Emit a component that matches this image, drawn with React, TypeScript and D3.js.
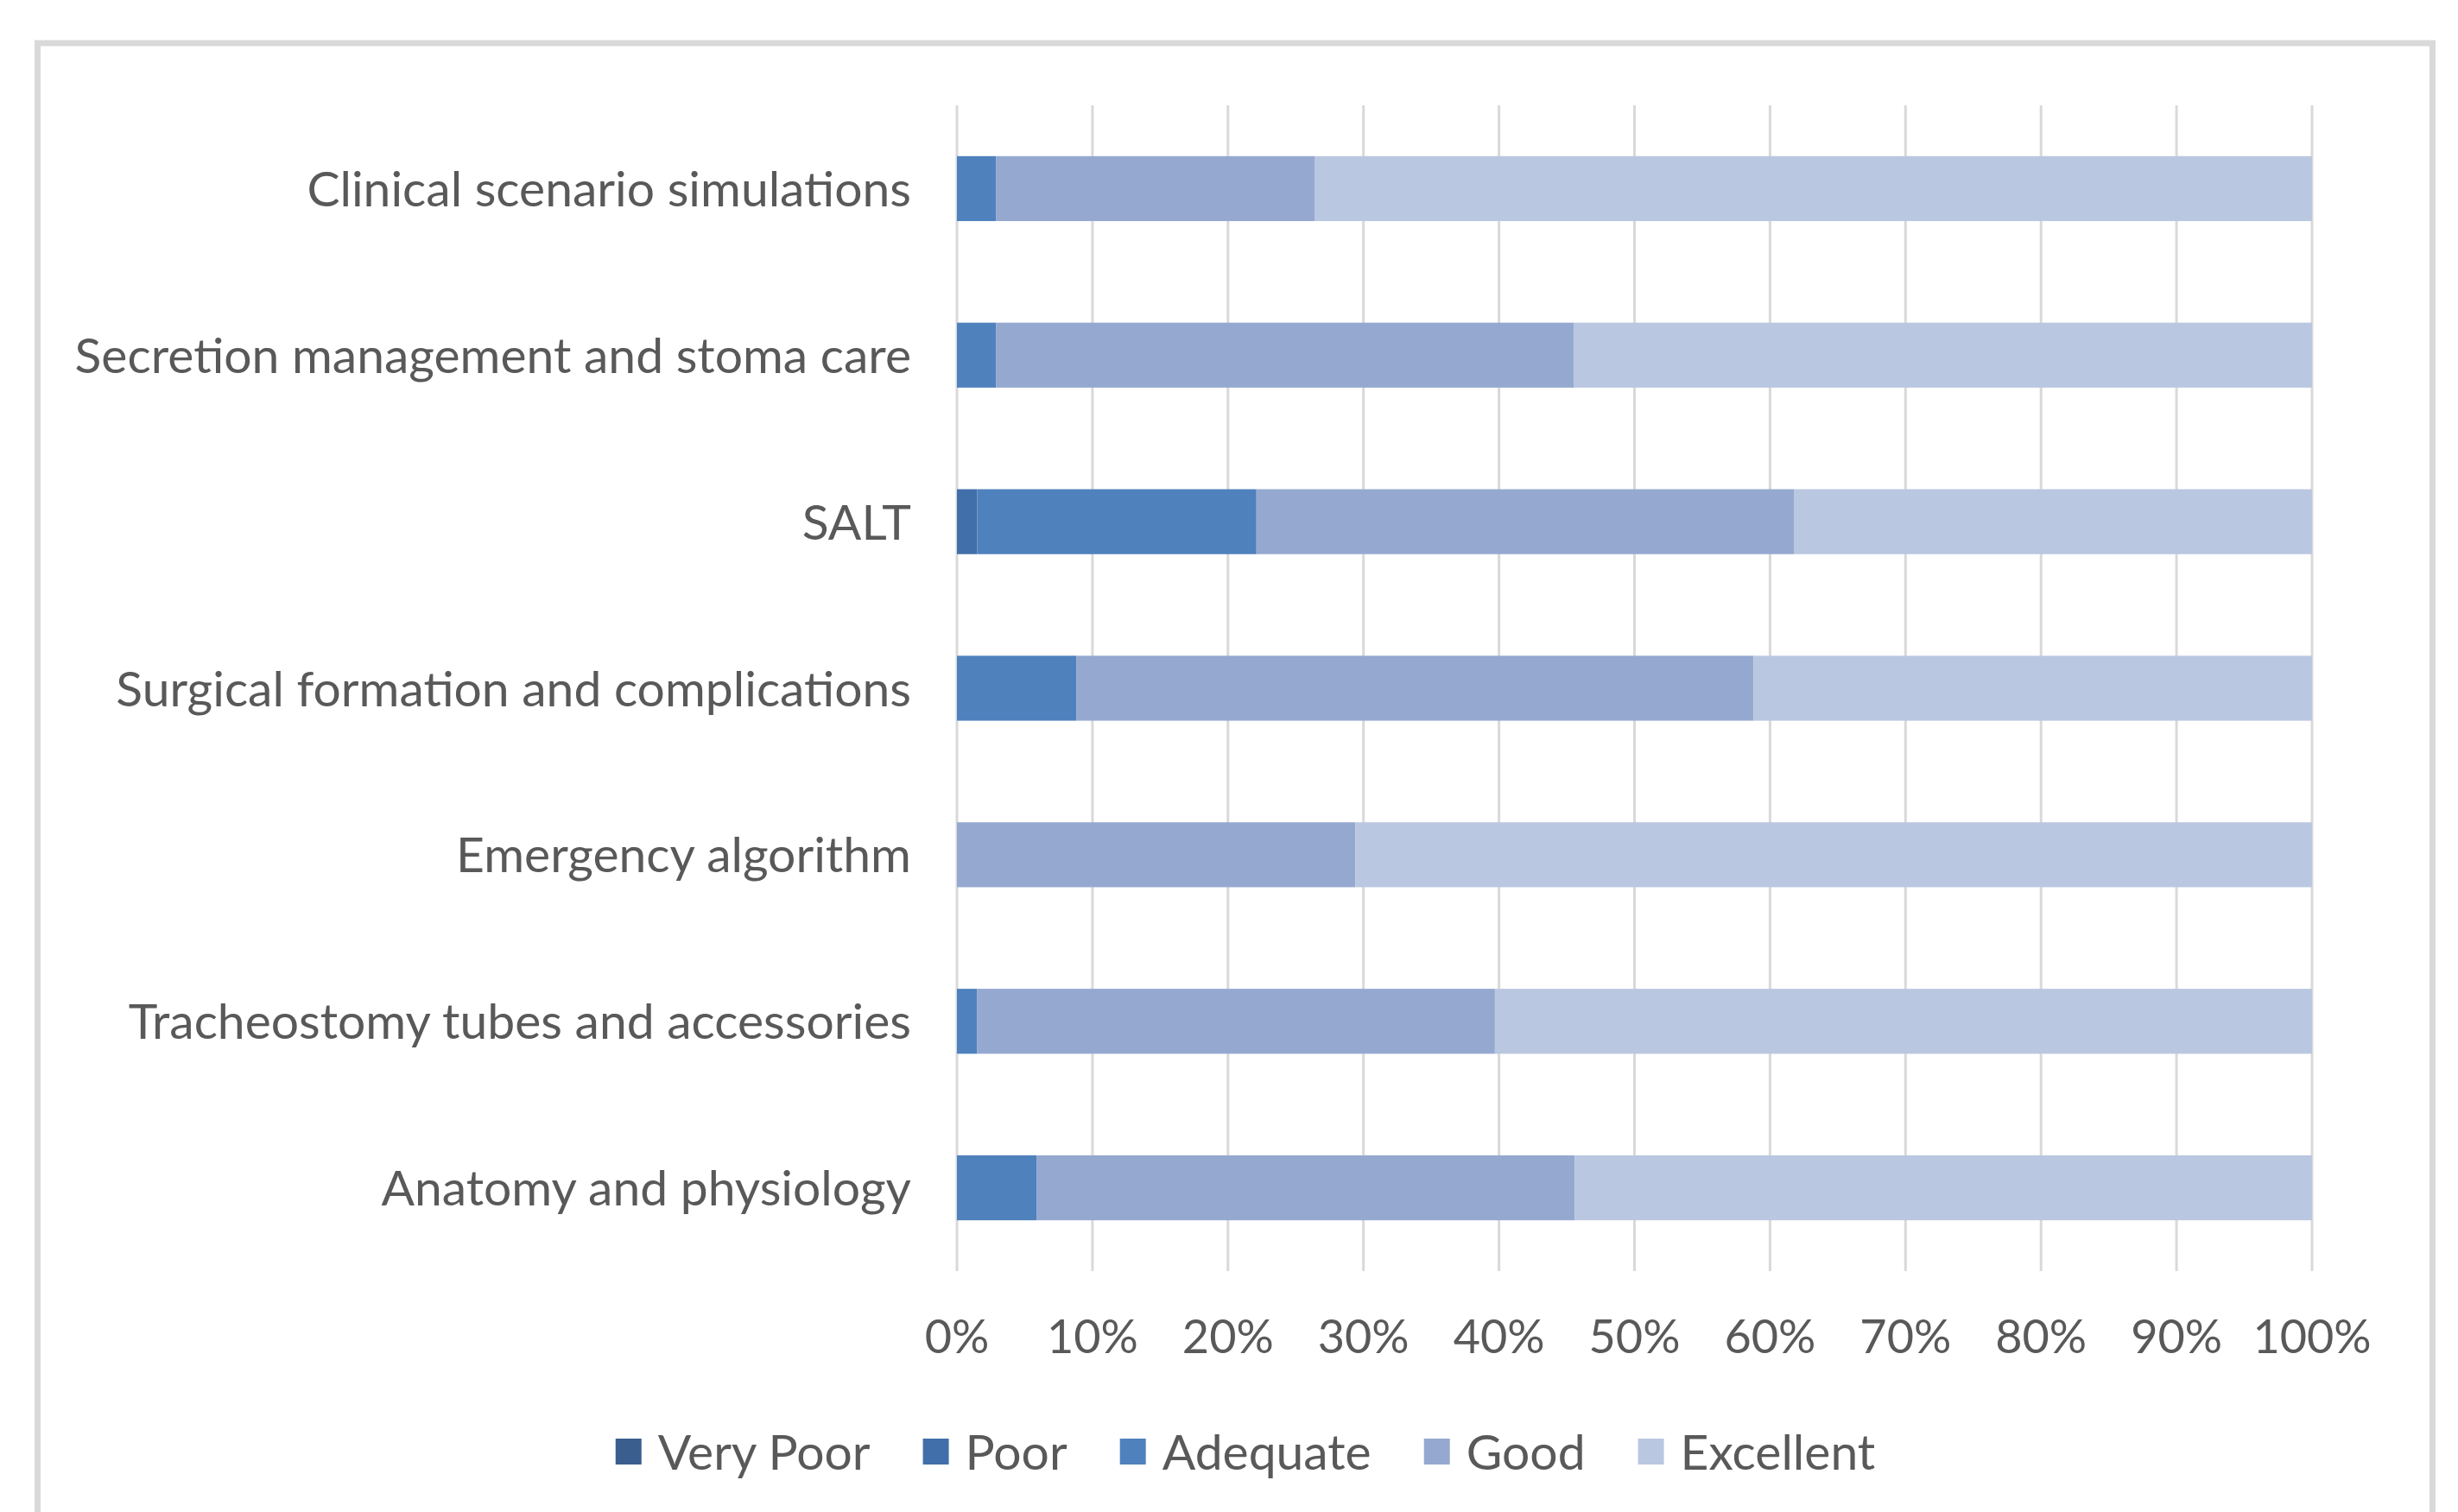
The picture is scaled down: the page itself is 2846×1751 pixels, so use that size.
import { useEffect, useRef } from "react"
import * as d3 from "d3"

const categories = [
  "Clinical scenario simulations",
  "Secretion management and stoma care",
  "SALT",
  "Surgical formation and complications",
  "Emergency algorithm",
  "Tracheostomy tubes and accessories",
  "Anatomy and physiology",
]
const seriesNames = ["Very Poor", "Poor", "Adequate", "Good", "Excellent"]
// percent of respondents per rating
const veryPoor = [0, 0, 0, 0, 0, 0, 0]
const poor = [0, 0, 1.5, 0, 0, 0, 0]
const adequate = [2.9, 2.9, 20.6, 8.8, 0, 1.5, 5.9]
const good = [23.5, 42.6, 39.7, 50.0, 29.4, 38.2, 39.7]
const excellent = [73.5, 54.4, 38.2, 41.2, 70.6, 60.3, 54.4]
const tickValues = [0, 0.1, 0.2, 0.3, 0.4, 0.5, 0.6, 0.7, 0.8, 0.9, 1]
const colors = ["#3a5f8f", "#416fa9", "#4f81bd", "#95a9d0", "#bac7e0"]

const W = 2846
const H = 1751
const FONT = "Lato, 'Open Sans', sans-serif"
const FS = 57
const TICK_FS = 54
const TEXT = "#595959"

export default function App() {
  const svgRef = useRef<SVGSVGElement>(null)

  useEffect(() => {
    if (!svgRef.current) return
    const svg = d3.select(svgRef.current)
    svg.selectAll("*").remove()

    // outer frame (bottom edge runs off the picture)
    svg.append("rect")
      .attr("x", 43.5).attr("y", 50)
      .attr("width", 2773).attr("height", 1800)
      .attr("fill", "#fff")
      .attr("stroke", "#d9d9d9")
      .attr("stroke-width", 7)

    const rows = categories.map((c, i) => ({
      category: c,
      "Very Poor": veryPoor[i],
      Poor: poor[i],
      Adequate: adequate[i],
      Good: good[i],
      Excellent: excellent[i],
    }))

    const stacked = d3.stack<any>()
      .keys(seriesNames)
      .offset(d3.stackOffsetExpand)(rows)

    const x = d3.scaleLinear().domain([0, 1]).range([1108, 2677])
    const y = d3.scaleBand().domain(categories).range([122, 1472])
      .paddingInner(0.61).paddingOuter(0.305)

    // gridlines
    svg.append("g")
      .selectAll("line")
      .data(tickValues)
      .join("line")
      .attr("x1", d => x(d)).attr("x2", d => x(d))
      .attr("y1", 122).attr("y2", 1472)
      .attr("stroke", "#d9d9d9")
      .attr("stroke-width", 3)

    // bars
    svg.append("g")
      .selectAll("g")
      .data(stacked)
      .join("g")
      .attr("fill", (_, i) => colors[i])
      .selectAll("rect")
      .data(d => d)
      .join("rect")
      .attr("x", d => x(d[0]))
      .attr("width", d => x(d[1]) - x(d[0]))
      .attr("y", d => y(d.data.category)!)
      .attr("height", y.bandwidth())

    // category labels
    svg.append("g")
      .selectAll("text")
      .data(categories)
      .join("text")
      .attr("x", 1055)
      .attr("y", d => y(d)! + y.bandwidth() / 2)
      .attr("dy", "0.36em")
      .attr("text-anchor", "end")
      .attr("font-family", FONT)
      .attr("font-size", FS)
      .attr("fill", TEXT)
      .text(d => d)

    // x tick labels
    const fmt = d3.format(".0%")
    svg.append("g")
      .selectAll("text")
      .data(tickValues)
      .join("text")
      .attr("x", d => x(d))
      .attr("y", 1548)
      .attr("dy", "0.36em")
      .attr("text-anchor", "middle")
      .attr("font-family", FONT)
      .attr("font-size", TICK_FS)
      .attr("fill", TEXT)
      .text(d => fmt(d))

    // legend, laid out from measured text widths
    const sw = 30
    const gapText = 19
    const gapItem = 61
    const legend = svg.append("g")
    const items = seriesNames.map((name, i) => {
      const g = legend.append("g")
      g.append("rect")
        .attr("width", sw).attr("height", sw)
        .attr("y", 1681 - sw / 2)
        .attr("fill", colors[i])
      const t = g.append("text")
        .attr("x", sw + gapText)
        .attr("y", 1681)
        .attr("dy", "0.36em")
        .attr("font-family", FONT)
        .attr("font-size", FS)
        .attr("fill", TEXT)
        .text(name)
      const w = (t.node() as SVGTextElement).getComputedTextLength()
      return { g, w: sw + gapText + w }
    })
    const total = d3.sum(items, d => d.w) + gapItem * (items.length - 1)
    let cx = 1442 - total / 2
    items.forEach(it => {
      it.g.attr("transform", `translate(${cx},0)`)
      cx += it.w + gapItem
    })
  }, [])

  return (
    <svg
      ref={svgRef}
      width={W}
      height={H}
      style={{ position: "absolute", left: 0, top: 0, display: "block", background: "#fff" }}
    />
  )
}
